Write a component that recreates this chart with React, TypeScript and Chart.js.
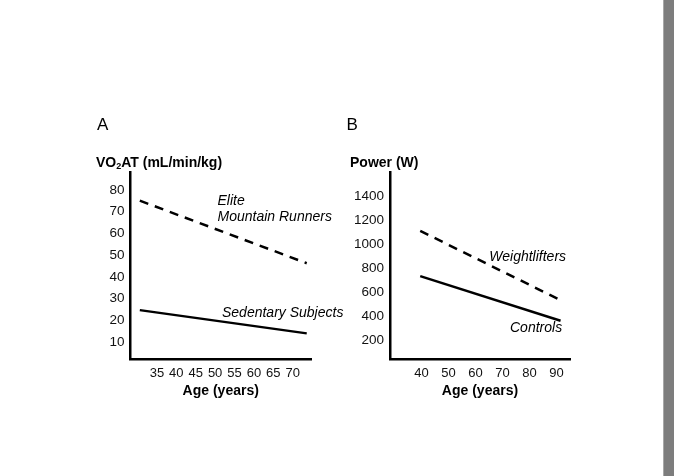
import React, { useEffect, useRef } from "react";
import { Chart, registerables } from "chart.js";

Chart.register(...registerables);

// ---------- Panel A data ----------
const agesA = [30.6, 73.6];
const eliteRunnersVO2 = [75.1, 46.3];
const sedentaryVO2 = [24.7, 14.0];
const yTicksA = [10, 20, 30, 40, 50, 60, 70, 80];
const xTicksA = [35, 40, 45, 50, 55, 60, 65, 70];

// ---------- Panel B data ----------
const agesB = [39.5, 91.5];
const weightliftersPower = [1111, 533];
const controlsPower = [733, 361];
const yTicksB = [200, 400, 600, 800, 1000, 1200, 1400];
const xTicksB = [40, 50, 60, 70, 80, 90];

const FONT = "'Liberation Sans', Arial, Helvetica, sans-serif";
const WA = 360;
const WB = 337;
const OFFB = 337;
const H = 476;

type Txt = { text: string; x: number; y: number; font: string };

function textPlugin(texts: Txt[], extra?: (ctx: CanvasRenderingContext2D) => void) {
  return {
    id: "texts",
    afterDraw(chart: any) {
      const ctx: CanvasRenderingContext2D = chart.ctx;
      ctx.save();
      ctx.fillStyle = "#000";
      ctx.textBaseline = "middle";
      ctx.textAlign = "left";
      for (const t of texts) {
        ctx.font = t.font;
        ctx.fillText(t.text, t.x, t.y);
      }
      if (extra) extra(ctx);
      ctx.restore();
    },
  };
}

function lineDataset(xs: number[], ys: number[], dashed: boolean) {
  return {
    data: xs.map((x, i) => ({ x, y: ys[i] })),
    borderColor: "#000",
    borderWidth: 2.5,
    borderDash: dashed ? [9, 7] : [],
    pointRadius: 0,
    fill: false,
    tension: 0,
  };
}

function buildOptions(p: {
  xMin: number; xMax: number; xTicks: number[];
  yMin: number; yMax: number; yTicks: number[];
  yWidth: number; padRight: number;
}) {
  return {
    responsive: false,
    animation: false,
    devicePixelRatio: 1,
    layout: { padding: { left: 0, top: 172, right: p.padRight, bottom: 0 } },
    plugins: { legend: { display: false }, tooltip: { enabled: false } },
    scales: {
      x: {
        type: "linear",
        min: p.xMin,
        max: p.xMax,
        grid: { display: false, drawTicks: false },
        border: { display: true, color: "#000", width: 2.5 },
        ticks: {
          color: "#111",
          font: { family: FONT, size: 13 },
          padding: 7,
          autoSkip: false,
          maxRotation: 0,
          callback: (v: any) => String(v),
        },
        afterBuildTicks: (s: any) => {
          s.ticks = p.xTicks.map((v) => ({ value: v }));
        },
        afterFit: (s: any) => {
          s.height = H - 359;
        },
        title: {
          display: true,
          text: "Age (years)",
          color: "#000",
          font: { family: FONT, size: 14, weight: "bold" },
          padding: { top: 0, bottom: 76 },
        },
      },
      y: {
        type: "linear",
        min: p.yMin,
        max: p.yMax,
        grid: { display: false, drawTicks: false },
        border: { display: true, color: "#000", width: 2.5 },
        ticks: {
          color: "#111",
          font: { family: FONT, size: 13.5 },
          padding: 6,
          autoSkip: false,
          callback: (v: any) => String(v),
        },
        afterBuildTicks: (s: any) => {
          s.ticks = p.yTicks.map((v) => ({ value: v }));
        },
        afterFit: (s: any) => {
          s.width = p.yWidth;
        },
      },
    },
  };
}

export default function App() {
  const refA = useRef<HTMLCanvasElement>(null);
  const refB = useRef<HTMLCanvasElement>(null);

  useEffect(() => {
    const italic = `italic 14px ${FONT}`;
    const bold = `bold 14px ${FONT}`;
    const panel = `17px ${FONT}`;

    const chartA = new Chart(refA.current as HTMLCanvasElement, {
      type: "line",
      data: {
        datasets: [
          lineDataset(agesA, eliteRunnersVO2, true),
          lineDataset(agesA, sedentaryVO2, false),
        ],
      } as any,
      options: buildOptions({
        xMin: 28.2, xMax: 74.7, xTicks: xTicksA,
        yMin: 2.2, yMax: 88.3, yTicks: yTicksA,
        yWidth: 130.5, padRight: WA - 311,
      }) as any,
      plugins: [
        textPlugin(
          [
            { text: "A", x: 97, y: 125, font: panel },
            { text: "Elite", x: 217.5, y: 200.7, font: italic },
            { text: "Mountain Runners", x: 217.5, y: 217.3, font: italic },
            { text: "Sedentary Subjects", x: 222, y: 313.3, font: italic },
          ],
          (ctx) => {
            let x = 96;
            const y = 162.7;
            ctx.font = bold;
            ctx.fillText("VO", x, y);
            x += ctx.measureText("VO").width;
            ctx.font = `bold 9px ${FONT}`;
            ctx.fillText("2", x, y + 4);
            x += ctx.measureText("2").width;
            ctx.font = bold;
            ctx.fillText("AT (mL/min/kg)", x, y);
          }
        ),
      ],
    });

    const off = OFFB;
    const chartB = new Chart(refB.current as HTMLCanvasElement, {
      type: "line",
      data: {
        datasets: [
          lineDataset(agesB, weightliftersPower, true),
          lineDataset(agesB, controlsPower, false),
        ],
      } as any,
      options: buildOptions({
        xMin: 28.3, xMax: 95, xTicks: xTicksB,
        yMin: 41.7, yMax: 1602.5, yTicks: yTicksB,
        yWidth: 390 - off, padRight: WB - (570 - off),
      }) as any,
      plugins: [
        textPlugin([
          { text: "B", x: 346.5 - off, y: 125, font: panel },
          { text: "Power (W)", x: 350 - off, y: 162.7, font: bold },
          { text: "Weightlifters", x: 489.3 - off, y: 256.7, font: italic },
          { text: "Controls", x: 510 - off, y: 328.3, font: italic },
        ]),
      ],
    });

    return () => {
      chartA.destroy();
      chartB.destroy();
    };
  }, []);

  return (
    <div
      style={{
        position: "absolute",
        left: 0,
        top: 0,
        width: 674,
        height: 476,
        background: "#fff",
        overflow: "hidden",
      }}
    >
      <canvas
        ref={refA}
        width={WA}
        height={H}
        style={{ position: "absolute", left: 0, top: 0, width: WA, height: H }}
      />
      <canvas
        ref={refB}
        width={WB}
        height={H}
        style={{ position: "absolute", left: OFFB, top: 0, width: WB, height: H }}
      />
      <div
        style={{
          position: "absolute",
          left: 663,
          top: 0,
          width: 11,
          height: 476,
          background: "#7d7d7d",
          borderLeft: "1px solid #a8a8a8",
          boxSizing: "border-box",
        }}
      />
    </div>
  );
}
